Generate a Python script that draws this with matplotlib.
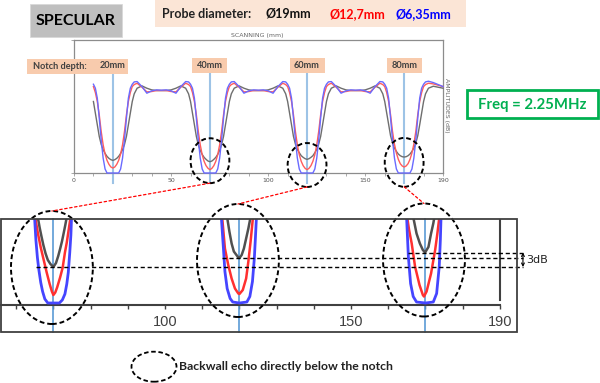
import numpy as np
import matplotlib
matplotlib.use("Agg")
import matplotlib.pyplot as plt
from matplotlib.patches import Rectangle, Ellipse, ConnectionPatch
from matplotlib.transforms import blended_transform_factory

nan = np.nan

# ---- data ----
notch_pos = [20, 70, 120, 170]          # scan position of each notch (mm)
notch_labels = ["20mm", "40mm", "60mm", "80mm"]
probe_labels = ["Ø19mm", "Ø12,7mm", "Ø6,35mm"]
probe_colors = ["#111111", "#ff0000", "#0000ff"]

# full scan, amplitude in dB
x_top = [10, 11, 12, 13, 14, 15, 16, 17, 18, 19, 20, 21, 22, 23, 24, 25, 26, 27, 28, 29, 30,
         31, 32.5, 35, 37.5, 40, 42.5, 45,
         47.5, 50, 52.5, 55, 57.5, 59,
         60, 61, 62, 63, 64, 65, 66, 67, 68, 69, 70, 71, 72, 73, 74, 75, 76, 77, 78, 79, 80,
         81, 82.5, 85, 87.5, 90, 92.5, 95,
         97.5, 100, 102.5, 105, 107.5, 109,
         110, 111, 112, 113, 114, 115, 116, 117, 118, 119, 120, 121, 122, 123, 124, 125, 126, 127, 128, 129, 130,
         131, 132.5, 135, 137.5, 140, 142.5, 145,
         147.5, 150, 152.5, 155, 157.5, 159,
         160, 161, 162, 163, 164, 165, 166, 167, 168, 169, 170, 171, 172, 173, 174, 175, 176, 177, 178, 179, 180,
         181, 182.5, 185, 187.5, 190]

blue_top = [-13.3, -14.5, -17.5, -23.5, -30.0, -35.5, -38.8, -40, -40, -40, -40, -40, -40, -40, -38.8, -35.5, -30.0, -23.5, -17.5, -14.5, -13.3,
            -12.6, -12.5, -14.0, -16.0, -15.3, -15.0, -15.1,
            -15.0, -15.3, -16.0, -14.0, -12.5, -12.6,
            -13.3, -14.5, -17.5, -23.5, -30.0, -35.5, -38.8, -40, -40, -40, -40, -40, -40, -40, -38.8, -35.5, -30.0, -23.5, -17.5, -14.5, -13.3,
            -12.6, -12.5, -14.0, -16.0, -15.3, -15.0, -15.1,
            -15.0, -15.3, -16.0, -14.0, -12.5, -12.6,
            -13.3, -14.5, -17.5, -23.5, -30.0, -35.5, -38.8, -40, -40, -40, -40, -40, -40, -40, -38.8, -35.5, -30.0, -23.5, -17.5, -14.5, -13.3,
            -12.6, -12.5, -14.0, -16.0, -15.3, -15.0, -15.1,
            -15.0, -15.3, -16.0, -14.0, -12.5, -12.6,
            -13.3, -14.5, -17.5, -23.5, -30.0, -35.5, -38.8, -40, -40, -40, -40, -40, -40, -40, -38.8, -35.5, -30.0, -23.5, -17.5, -14.5, -13.3,
            -12.6, -12.4, -12.8, -13.4, -14.0]

red_top = [-14.0, -15.8, -18.5, -22.5, -27.5, -31.5, -34.3, -36.2, -37.4, -38.2, -38.5, -38.2, -37.4, -36.2, -34.3, -31.5, -27.5, -22.5, -18.5, -15.8, -14.0,
           -13.4, -13.0, -14.2, -15.6, -15.5, -15.2, -15.2,
           -15.2, -15.5, -15.6, -14.2, -13.0, -13.4,
           -14.0, -15.8, -18.5, -22.5, -27.5, -31.5, -34.5, -36.5, -37.8, -38.6, -39.0, -38.6, -37.8, -36.5, -34.5, -31.5, -27.5, -22.5, -18.5, -15.8, -14.0,
           -13.4, -13.0, -14.2, -15.6, -15.5, -15.2, -15.2,
           -15.2, -15.5, -15.6, -14.2, -13.0, -13.4,
           -14.0, -15.8, -18.5, -22.5, -27.5, -31.5, -34.5, -36.5, -37.8, -38.6, -39.0, -38.6, -37.8, -36.5, -34.5, -31.5, -27.5, -22.5, -18.5, -15.8, -14.0,
           -13.4, -13.0, -14.2, -15.6, -15.5, -15.2, -15.2,
           -15.2, -15.5, -15.6, -14.2, -13.0, -13.4,
           -14.0, -15.8, -18.5, -22.5, -27.5, -31.3, -34.0, -35.9, -37.2, -37.9, -38.2, -37.9, -37.2, -35.9, -34.0, -31.3, -27.5, -22.5, -18.5, -15.8, -14.0,
           -13.4, -13.0, -13.2, -13.6, -14.0]

gray_top = [-18.5, -22.0, -25.5, -29.0, -31.4, -33.0, -34.1, -35.0, -35.6, -36.0, -36.2, -36.0, -35.6, -35.0, -34.1, -33.0, -31.4, -29.0, -25.5, -22.0, -18.5,
            -16.2, -14.5, -13.8, -14.5, -15.0, -15.2, -15.2,
            -15.2, -15.0, -14.5, -13.8, -14.5, -16.2,
            -18.5, -22.0, -25.5, -29.0, -31.5, -33.2, -34.4, -35.3, -35.9, -36.4, -36.6, -36.4, -35.9, -35.3, -34.4, -33.2, -31.5, -29.0, -25.5, -22.0, -18.5,
            -16.2, -14.5, -13.8, -14.5, -15.0, -15.2, -15.2,
            -15.2, -15.0, -14.5, -13.8, -14.5, -16.2,
            -18.5, -22.0, -25.5, -29.0, -31.3, -32.9, -33.9, -34.8, -35.3, -35.7, -35.9, -35.7, -35.3, -34.8, -33.9, -32.9, -31.3, -29.0, -25.5, -22.0, -18.5,
            -16.2, -14.5, -13.8, -14.5, -15.0, -15.2, -15.2,
            -15.2, -15.0, -14.5, -13.8, -14.5, -16.2,
            -18.5, -22.0, -25.5, -28.8, -31.0, -32.5, -33.5, -34.3, -34.8, -35.1, -35.2, -35.1, -34.8, -34.3, -33.5, -32.5, -31.0, -28.8, -25.5, -22.0, -18.5,
            -16.2, -14.5, -13.9, -14.2, -14.5]

# zoomed view of the backwall echo under the 40, 60 and 80 mm notches
zoom_x_blue = [64.9, 65.3, 65.7, 66.1, 66.6, 67.1, 67.7, 68.5, 70.0, 71.6, 72.4, 73.1, 73.6, 74.0, 74.4, 74.7, 74.9, nan,
               115.1, 115.7, 116.1, 116.7, 117.5, 118.2, 120.0, 122.0, 122.8, 123.5, 124.0, 124.3, 124.6, nan,
               164.9, 165.4, 166.0, 166.7, 167.6, 170.0, 172.1, 173.0, 173.7, 174.0, 174.2]
zoom_blue = [-22.0, -27.0, -30.5, -33.0, -35.5, -37.3, -38.8, -39.6, -39.6, -39.6, -39.0, -37.8, -35.8, -33.5, -29.5, -26.0, -22.0, nan,
             -22.0, -28.7, -33.3, -36.7, -38.7, -39.4, -39.6, -39.4, -38.3, -35.3, -30.7, -26.5, -22.0, nan,
             -22.0, -30.3, -35.7, -38.3, -39.4, -39.6, -39.4, -37.7, -32.3, -27.0, -22.0]

zoom_x_red = [65.0, 65.8, 66.6, 67.4, 68.2, 69.0, 69.6, 70.0, 70.5, 71.0, 71.8, 72.5, 73.1, 73.6, 74.1, 74.7, nan,
              115.3, 116.1, 117.0, 117.9, 118.8, 119.7, 120.0, 120.9, 121.8, 122.4, 123.0, 123.7, nan,
              165.0, 165.6, 166.3, 167.2, 168.4, 169.3, 169.6, 170.3, 171.5, 172.6, 173.2, 173.8]
zoom_red = [-22.0, -25.5, -28.5, -31.0, -33.5, -35.8, -37.3, -38.0, -37.5, -36.5, -34.5, -32.5, -29.5, -27.5, -25.0, -22.0, nan,
            -22.0, -28.7, -32.0, -34.7, -36.7, -37.7, -37.8, -37.0, -34.7, -31.3, -27.3, -22.0, nan,
            -22.0, -25.0, -27.7, -32.3, -36.0, -38.0, -38.3, -37.3, -33.7, -29.0, -25.7, -22.0]

zoom_x_gray = [65.7, 66.3, 66.8, 67.3, 67.9, 68.5, 69.2, 70.0, 70.7, 71.3, 71.8, 72.3, 72.8, 73.2, 73.7, nan,
               116.6, 117.3, 117.9, 118.5, 119.3, 119.7, 120.0, 120.6, 121.2, 121.8, 122.4, 123.1, nan,
               166.6, 167.6, 168.5, 169.3, 169.9, 170.8, 171.5, 172.1, 172.5]
zoom_gray = [-22.0, -24.5, -26.3, -28.0, -29.7, -31.0, -31.8, -32.4, -31.6, -30.2, -28.8, -27.3, -25.5, -24.0, -22.0, nan,
             -22.0, -25.3, -27.7, -29.3, -30.1, -30.5, -30.6, -30.0, -28.7, -26.7, -24.7, -22.0, nan,
             -22.0, -25.7, -27.7, -29.0, -29.5, -28.4, -25.7, -23.7, -22.0]

# ---- layout helpers (pixel -> figure fraction) ----
W, H = 600, 383


def fx(x):
    return x / W


def fy(y):
    return 1 - y / H


BOLD = "Lato"
NARROW = ["Liberation Sans Narrow", "Liberation Sans", "DejaVu Sans"]

fig = plt.figure(figsize=(6, 3.83), dpi=100)

# ---------------- top chart ----------------
ax = fig.add_axes([fx(74), fy(173), (443 - 74) / W, (173 - 40) / H])
ax.plot(x_top, gray_top, color="#6e6e6e", lw=1.0, clip_on=False, zorder=3)
ax.plot(x_top, red_top, color="#ff5c5c", lw=1.0, clip_on=False, zorder=3)
ax.plot(x_top, blue_top, color="#6a6aff", lw=1.0, clip_on=False, zorder=3)
for c in notch_pos:
    ax.plot([c, c], [-9.9, -43], color="#9dc3e6", lw=1.5, clip_on=False, zorder=2)

ax.set_xlim(0, 190)
ax.set_ylim(-40, 0)
ax.set_xticks(range(0, 191, 10))
ax.set_xticklabels([str(v) if v in (0, 50, 100, 150, 190) else "" for v in range(0, 191, 10)])
ax.set_yticks([-40, 0])
ax.set_yticklabels(["", ""])
ax.tick_params(labelsize=4.5, length=2, width=0.5, color="#888888", labelcolor="#555555", pad=1.5)
for s in ax.spines.values():
    s.set_color("#8c8c8c")
    s.set_linewidth(0.9)

fig.text(fx(257), fy(36), "SCANNING (mm)", fontsize=4.5, color="#666666", ha="center", va="center")
fig.text(fx(446), fy(105), "AMPLITUDES (dB)", fontsize=4.5, color="#666666", ha="center", va="center",
         rotation=270)

# dashed circles on the top chart
top_cy = [-36.3, -37.6, -36.8]
top_h = [13.5, 13.2, 14.7]
for c, cy, h in zip(notch_pos[1:], top_cy, top_h):
    ax.add_patch(Ellipse((c, cy), 20, h, fill=False, ec="black", lw=1.4, ls=(0, (2.5, 1.5)),
                         clip_on=False, zorder=4))

# notch depth labels
trans = blended_transform_factory(ax.transData, fig.transFigure)
fig.add_artist(Rectangle((fx(27), fy(74)), (128 - 27) / W, 15 / H, transform=fig.transFigure,
                         fc="#f8cbad", ec="none"))
fig.text(fx(33), fy(66.5), "Notch depth:", fontsize=6.6, fontweight="bold", family=BOLD,
         color="#404040", ha="left", va="center")
for i, (c, lab) in enumerate(zip(notch_pos, notch_labels)):
    if i > 0:
        fig.add_artist(Rectangle((c - 9, fy(73)), 18, 15 / H, transform=trans, fc="#f8cbad", ec="none"))
    fig.text(c, fy(66), lab, transform=trans, fontsize=6.6, fontweight="bold", family=BOLD,
             color="#404040", ha="center", va="center")

# ---------------- zoomed chart ----------------
axb = fig.add_axes([0, fy(305), 517 / W, 86 / H])
axb.plot(zoom_x_gray, zoom_gray, color="#505050", lw=1.8, zorder=3)
axb.plot(zoom_x_red, zoom_red, color="#ff3030", lw=1.8, zorder=3)
axb.plot(zoom_x_blue, zoom_blue, color="#4545ff", lw=2.0, zorder=3)
for c in notch_pos[1:]:
    axb.plot([c, c], [-22.8, -45.4], color="#5b9bd5", lw=1.2, clip_on=False, zorder=2)
axb.set_xlim(55.65, 194.6)
axb.set_ylim(-40, -22.8)
for side in ("top", "left", "right"):
    axb.spines[side].set_visible(False)
axb.spines["bottom"].set_color("#404040")
axb.spines["bottom"].set_linewidth(1.5)
axb.spines["bottom"].set_bounds(55.65, 190)
axb.axvline(190, ymin=5 / 86, ymax=1, color="#404040", lw=1.5)
zticks = list(range(60, 191, 10))
axb.set_xticks(zticks)
axb.set_xticklabels([str(v) if v in (100, 150, 190) else "" for v in zticks],
                    fontdict={"family": NARROW, "size": 10.5})
axb.set_yticks([])
axb.tick_params(axis="x", length=3, width=1, color="#404040", labelcolor="#404040", pad=4)
fig.add_artist(Rectangle((fx(0.6), fy(332)), 516.4 / W, 113 / H, transform=fig.transFigure,
                         fill=False, ec="#404040", lw=1.3))

# 3 dB comparison lines through the minima of the 19 mm probe
gray_mins = [-32.4, -30.6, -29.5]
for c, g in zip(notch_pos[1:], gray_mins):
    axb.plot([c - 4.8, 196.2], [g, g], color="black", lw=1.0, ls=(0, (3, 2)), clip_on=False, zorder=4)
axb.annotate("", xy=(196.2, gray_mins[2]), xytext=(196.2, gray_mins[0]),
             arrowprops=dict(arrowstyle="<->", lw=0.8, mutation_scale=5, shrinkA=0, shrinkB=0),
             annotation_clip=False)
axb.text(197, -31.0, "3dB", fontsize=8, color="#222222", ha="left", va="center", clip_on=False)

# dashed circles on the zoomed chart
zoom_cy = [-32.5, -31.1, -31.0]
for c, cy in zip(notch_pos[1:], zoom_cy):
    axb.add_patch(Ellipse((c - 0.4, cy), 22, 22.6, fill=False, ec="black", lw=1.4, ls=(0, (2.5, 1.5)),
                          clip_on=False, zorder=5))

# red connectors between the two charts
for c, cy, h, zcy in zip(notch_pos[1:], top_cy, top_h, zoom_cy):
    con = ConnectionPatch(xyA=(c, cy - h / 2), coordsA=ax.transData,
                          xyB=(c - 0.4, zcy + 11.3), coordsB=axb.transData,
                          color="#ff0000", lw=0.9, ls=(0, (2, 2)))
    fig.add_artist(con)

# ---------------- header boxes ----------------
fig.add_artist(Rectangle((fx(30), fy(37.3)), 92 / W, 33.5 / H, transform=fig.transFigure,
                         fc="#bfbfbf", ec="#d9d9d9", lw=0.6))
fig.text(fx(76), fy(21), "SPECULAR", fontsize=11.5, fontweight="bold", family=BOLD,
         color="black", ha="center", va="center")

fig.add_artist(Rectangle((fx(155), fy(27)), 311 / W, 27 / H, transform=fig.transFigure,
                         fc="#fbe5d6", ec="none"))
fig.text(fx(162), fy(14), "Probe diameter:", fontsize=9, fontweight="bold", family=BOLD,
         color="#222222", ha="left", va="center")
for px_, lab, col in zip([266, 329, 395], probe_labels, probe_colors):
    fig.text(fx(px_), fy(14), lab, fontsize=9, fontweight="bold", family=BOLD,
             color=col, ha="left", va="center")

fig.add_artist(Rectangle((fx(467), fy(118)), 131 / W, 28 / H, transform=fig.transFigure,
                         fc="white", ec="#00b050", lw=2))
fig.text(fx(532.5), fy(104.5), "Freq = 2.25MHz", fontsize=10.7, fontweight="bold", family=BOLD,
         color="#00b050", ha="center", va="center")

# legend for the dashed circles
fig.add_artist(Ellipse((fx(154), fy(366.7)), 45 / W, 30 / H, transform=fig.transFigure,
                       fill=False, ec="black", lw=1.3, ls=(0, (2.5, 1.5))))
fig.text(fx(179), fy(366), "Backwall echo directly below the notch", fontsize=8.8, fontweight="bold",
         family=BOLD, color="#222222", ha="left", va="center")

fig.savefig("out.png", dpi=100)
